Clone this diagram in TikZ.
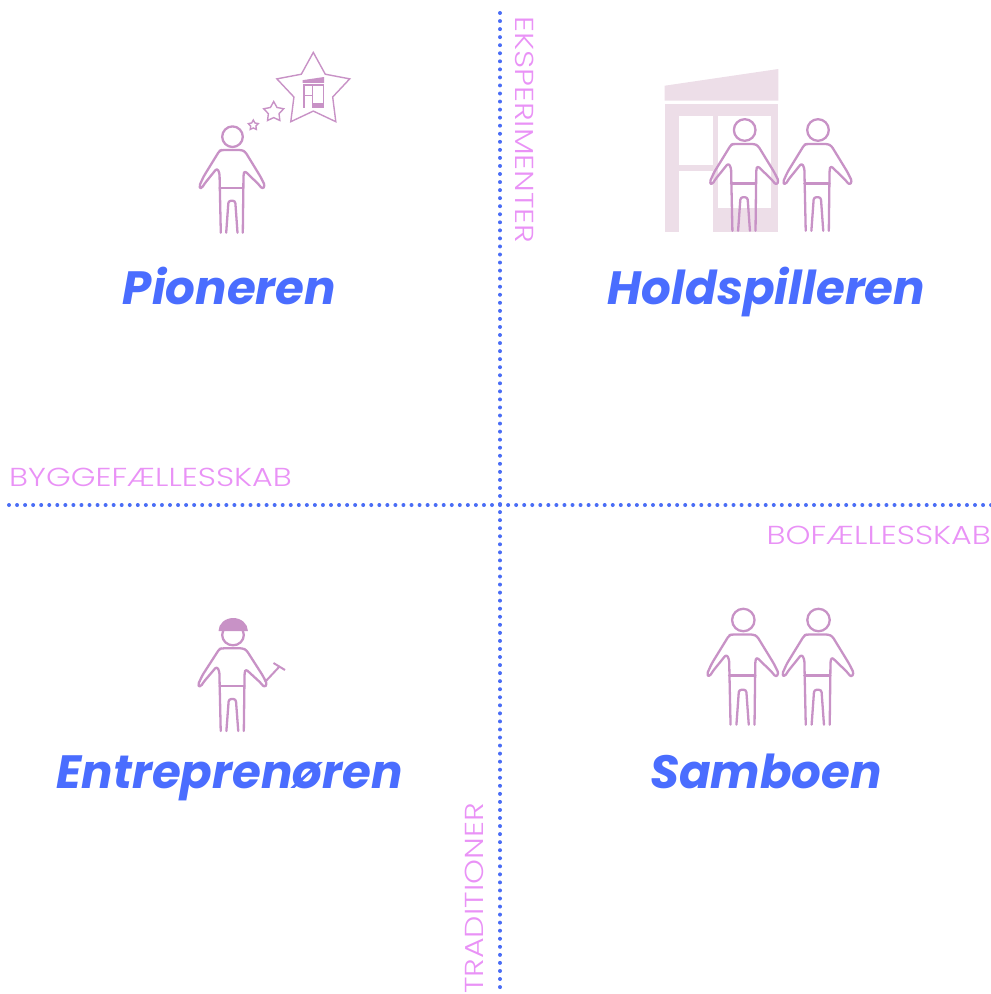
\documentclass[tikz,border=0pt]{standalone}
\usepackage{fontspec}
\usetikzlibrary{shapes.geometric}
\setmainfont{Poppins}
\newfontfamily\lightfont[FakeStretch=1.22]{Poppins Light}
\definecolor{figcol}{HTML}{C892C6}
\definecolor{housecol}{HTML}{EDDEE8}
\definecolor{titlecol}{HTML}{4A6DFF}
\definecolor{axiscol}{HTML}{E992F6}
\definecolor{dotcol}{HTML}{4A6DF5}
\tikzset{
  x=1pt,y=-1pt,
  figline/.style={draw=figcol,line width=2.3pt,line join=round,line cap=round,rounded corners=2.5pt},
  dotline/.style={draw=dotcol,line width=4pt,line cap=round,dash pattern=on 0pt off 8.05pt},
  title/.style={text=titlecol,font=\fontsize{46.7}{46.7}\selectfont\bfseries\itshape,anchor=base,inner sep=0pt},
  axislabel/.style={text=axiscol,font=\fontsize{26}{26}\lightfont,anchor=base,inner sep=0pt},
  staricon/.style={star,star points=5,star point ratio=1.88,draw=figcol,line width=1.4pt,inner sep=0pt},
  person/.pic={
    \draw[figline,rounded corners=0pt] (0,0) circle[radius=10.3];
    \draw[figline] (-11.7,96) -- (-13,36) -- (-15.5,31.5) -- (-28,47) -- (-31,52) -- (-33.5,50) -- (-29,40) -- (-13,14) -- (-10.7,13.3)
      -- (9.3,13.3) -- (12.7,15) -- (28,40) -- (32.5,49) -- (30,52.5) -- (26,47.5) -- (12,34) -- (11,38) -- (10.3,96);
    \draw[figline,rounded corners=0pt] (-13,51) -- (11,51);
    \draw[figline] (-6.3,96) -- (-4,64) -- (2.7,64) -- (5,96);
  },
  house/.pic={
    \fill[pic actions] (0,16.7) -- (113.6,0) -- (113.6,31.7) -- (0,31.7) -- cycle;
    \fill[pic actions] (0,35) rectangle (113.6,163.3);
    \fill[white] (14.3,46.7) rectangle (48.3,96);
    \fill[white] (14.3,101.7) rectangle (48.3,163.3);
    \fill[white] (53.3,46.7) rectangle (106.3,138.7);
  }
}
\begin{document}
\begin{tikzpicture}
  \useasboundingbox (0,0) rectangle (991,994);
  \pic[fill=housecol] (bighouse) at (664.7,69) {house};
  \pic[fill=figcol,scale=0.1875] (smallhouse) at (302.7,77) {house};

  \node[staricon,minimum size=76.6pt] (bigstar) at (313.3,90.7) {};
  \node[staricon,minimum size=21pt] (midstar) at (273.7,112) {};
  \node[staricon,minimum size=10.4pt] (tinystar) at (253.3,125.2) {};

  \pic (pioneer) at (232.5,136.7) {person};
  \pic[scale=1.05] (holdone) at (744.7,130) {person};
  \pic[scale=1.05] (holdtwo) at (818,130) {person};
  \pic[xscale=1.05] (entre) at (233,635) {person};
  \pic[scale=1.09] (samboone) at (743.3,620) {person};
  \pic[scale=1.09] (sambotwo) at (818.5,620) {person};

  \fill[figcol] (218.5,631) arc[start angle=180,end angle=360,x radius=14.7,y radius=13] -- cycle;
  \draw[figcol,line width=2pt] (265,682) -- (279.5,666.5);
  \draw[figcol,line width=2pt] (273.5,663) -- (285,670);

  \node[title] (pioneren) at (229.5,304) {Pioneren};
  \node[title] (holdspilleren) at (766.5,304) {Holdspilleren};
  \node[title] (entreprenoren) at (229.5,788) {Entreprenøren};
  \node[title] (samboen) at (766,788) {Samboen};

  \coordinate (top) at (500,13);
  \coordinate (bottom) at (500,992);
  \coordinate (left) at (9,505);
  \coordinate (right) at (992,505);
  \draw[dotline] (top) -- (bottom);
  \draw[dotline] (left) -- (right);

  \node[axislabel,anchor=base west] (bygge) at (9,486) {BYGGEFÆLLESSKAB};
  \node[axislabel,anchor=base east] (bo) at (991,544) {BOFÆLLESSKAB};
  \node[axislabel,rotate=-90,anchor=base west] (eksp) at (515,16) {EKSPERIMENTER};
  \node[axislabel,rotate=90,anchor=base west] (trad) at (483,994) {TRADITIONER};
\end{tikzpicture}
\end{document}
